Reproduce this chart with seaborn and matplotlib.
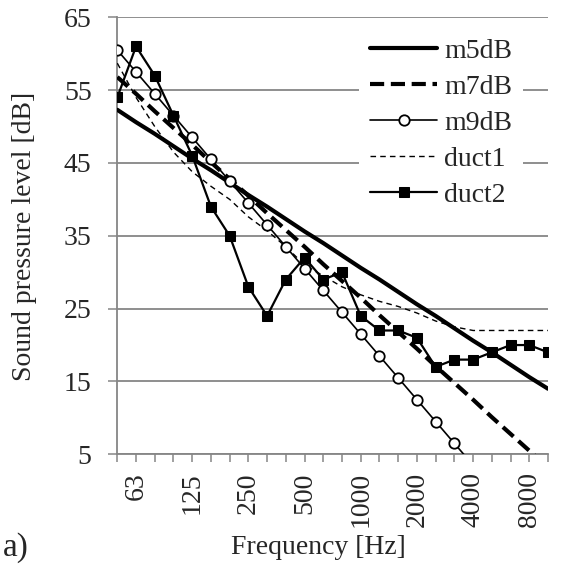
import numpy as np
import pandas as pd
import matplotlib
matplotlib.use("Agg")
import matplotlib.pyplot as plt
import seaborn as sns

# 1/3-octave band centres [Hz]
bands = ["50", "63", "80", "100", "125", "160", "200", "250", "315", "400", "500", "630",
         "800", "1000", "1250", "1600", "2000", "2500", "3150", "4000", "5000", "6300",
         "8000", "10000"]
tick_labels = ["63", "125", "250", "500", "1000", "2000", "4000", "8000"]

m5dB = [52.3, 50.6, 49.0, 47.3, 45.6, 44.0, 42.3, 40.6, 39.0, 37.3, 35.6, 34.0,
        32.3, 30.6, 29.0, 27.3, 25.6, 24.0, 22.3, 20.6, 19.0, 17.3, 15.6, 14.0]
m7dB = [56.8, 54.5, 52.1, 49.8, 47.5, 45.1, 42.8, 40.5, 38.1, 35.8, 33.5, 31.1,
        28.8, 26.5, 24.1, 21.8, 19.5, 17.1, 14.8, 12.5, 10.1, 7.8, 5.5, 3.1]
m9dB = [60.5, 57.5, 54.5, 51.5, 48.5, 45.5, 42.5, 39.5, 36.5, 33.5, 30.5, 27.5,
        24.5, 21.5, 18.5, 15.5, 12.5, 9.5, 6.5, 3.5, np.nan, np.nan, np.nan, np.nan]
duct1 = [58.7, 54.0, 50.0, 46.5, 43.8, 41.8, 40.0, 37.6, 35.7, 33.5, 31.0, 29.5,
         28.0, 26.9, 26.0, 25.3, 24.4, 23.3, 22.5, 22.0, 22.0, 22.0, 22.0, 22.0]
duct2 = [54, 61, 57, 51.5, 46, 39, 35, 28, 24, 29, 32, 29,
         30, 24, 22, 22, 21, 17, 18, 18, 19, 20, 20, 19]

sns.set_style("white")
plt.rcParams["font.family"] = ["Liberation Serif", "DejaVu Serif"]

W, H = 562, 568
fig = plt.figure(figsize=(W / 100, H / 100), dpi=100)
ax = fig.add_axes([117.3 / W, 1 - 454.3 / H, (548 - 117.3) / W, (454.3 - 17.3) / H])

idx = np.arange(len(bands))
df = pd.DataFrame({"band": idx, "m5dB": m5dB, "m7dB": m7dB, "m9dB": m9dB,
                   "duct1": duct1, "duct2": duct2})

grid_c = "#868686"

sns.lineplot(data=df, x="band", y="m5dB", ax=ax, color="black", lw=3.0,
             label="m5dB", zorder=4)
sns.lineplot(data=df, x="band", y="m7dB", ax=ax, color="black", lw=3.0,
             label="m7dB", zorder=4)
ax.lines[-1].set_dashes([3.4, 1.6])
sns.lineplot(data=df, x="band", y="m9dB", ax=ax, color="black", lw=1.2,
             marker="o", markersize=7.5, markerfacecolor="white",
             markeredgecolor="black", markeredgewidth=1.3, label="m9dB", zorder=5)
sns.lineplot(data=df, x="band", y="duct1", ax=ax, color="black", lw=1.0,
             label="duct1", zorder=3)
ax.lines[-1].set_dashes([4, 3])
sns.lineplot(data=df, x="band", y="duct2", ax=ax, color="black", lw=1.6,
             marker="s", markersize=6.5, markerfacecolor="black",
             markeredgecolor="black", label="duct2", zorder=6)

ax.set_xlim(0, len(bands) - 1)
ax.set_ylim(5, 65)
ax.set_yticks(np.arange(5, 66, 10))
ax.set_xticks(idx)
labels = [b if b in tick_labels else "" for b in bands]
ax.set_xticklabels(labels, rotation=90, fontsize=20)
ax.tick_params(axis="y", labelsize=20, length=6.5, width=1.1, color=grid_c,
               direction="out", pad=12, left=True)
ax.tick_params(axis="x", length=6, width=1.1, color=grid_c, direction="out",
               pad=7, bottom=True)
ax.yaxis.grid(True, color=grid_c, lw=1.3)
ax.xaxis.grid(False)
ax.set_axisbelow(True)
for s in ["top", "right"]:
    ax.spines[s].set_visible(False)
for s in ["left", "bottom"]:
    ax.spines[s].set_color(grid_c)
    ax.spines[s].set_linewidth(1.3)
ax.set_xlabel("")
ax.set_ylabel("")

leg = ax.legend(loc="upper right", bbox_to_anchor=(0.955, 0.99), fontsize=20,
                frameon=True, facecolor="white", edgecolor="none", framealpha=1,
                handlelength=2.4, handletextpad=0.25, labelspacing=0.38,
                borderaxespad=0.2, fancybox=False)

fig.text(25 / W, 1 - 236 / H, "Sound pressure level [dB]", rotation=90,
         ha="center", va="center", fontsize=20)
fig.text(318 / W, 1 - 548 / H, "Frequency [Hz]", ha="center", va="center",
         fontsize=20)
fig.text(3 / W, 1 - 548 / H, "a)", ha="left", va="center", fontsize=24)

fig.savefig("out.png", dpi=100, facecolor="white")
